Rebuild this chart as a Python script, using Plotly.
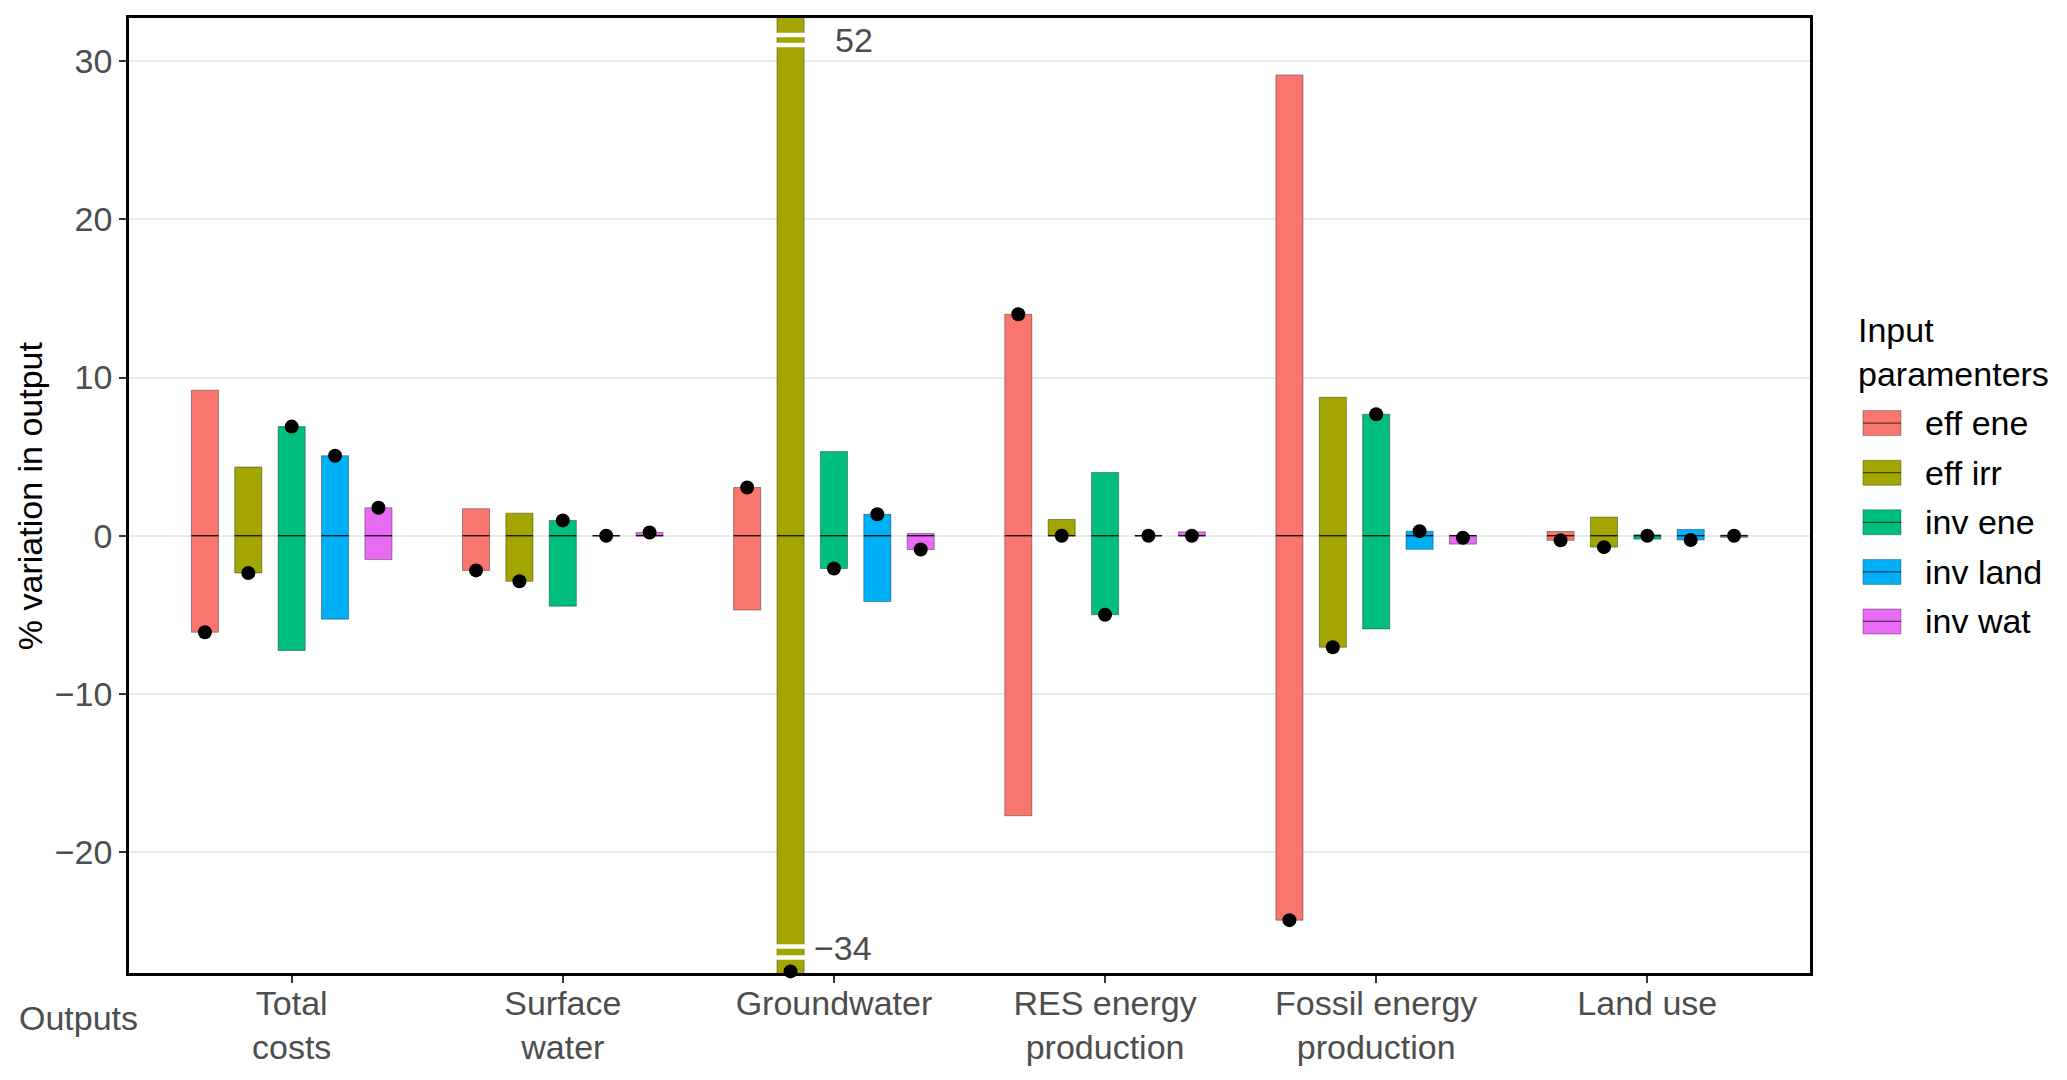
import numpy as np
import plotly.graph_objects as go

# ---------------- data ----------------
outputs = ["Total<br>costs", "Surface<br>water", "Groundwater",
           "RES energy<br>production", "Fossil energy<br>production", "Land use"]
params = ["eff ene", "eff irr", "inv ene", "inv land", "inv wat"]

eff_ene_low = [-6.1, -2.19, -4.7, -17.7, -24.3, -0.29]
eff_ene_high = [9.2, 1.71, 3.05, 14.0, 29.13, 0.27]
eff_ene_dot = [-6.1, -2.19, 3.05, 14.0, -24.3, -0.29]

eff_irr_low = [-2.35, -2.88, -34.0, 0.0, -7.05, -0.72]
eff_irr_high = [4.35, 1.43, 52.0, 1.03, 8.75, 1.18]
eff_irr_dot = [-2.35, -2.88, -34.0, 0.0, -7.05, -0.72]

inv_ene_low = [-7.25, -4.45, -2.07, -4.99, -5.89, -0.21]
inv_ene_high = [6.9, 0.97, 5.32, 4.0, 7.68, 0.06]
inv_ene_dot = [6.9, 0.97, -2.07, -4.99, 7.68, 0.0]

inv_land_low = [-5.27, -0.01, -4.16, -0.01, -0.86, -0.27]
inv_land_high = [5.06, 0.01, 1.36, 0.01, 0.29, 0.4]
inv_land_dot = [5.06, 0.0, 1.36, 0.0, 0.29, -0.27]

inv_wat_low = [-1.5, 0.0, -0.87, 0.0, -0.53, -0.1]
inv_wat_high = [1.77, 0.21, 0.15, 0.25, 0.02, 0.04]
inv_wat_dot = [1.77, 0.21, -0.87, 0.0, -0.13, 0.0]

baseline = 0.0
y_ticks = [-20, -10, 0, 10, 20, 30]

lows = [eff_ene_low, eff_irr_low, inv_ene_low, inv_land_low, inv_wat_low]
highs = [eff_ene_high, eff_irr_high, inv_ene_high, inv_land_high, inv_wat_high]
dots = [eff_ene_dot, eff_irr_dot, inv_ene_dot, inv_land_dot, inv_wat_dot]

# ---------------- style ----------------
colors = ["#F8766D", "#A3A500", "#00BF7D", "#00B0F6", "#E76BF3"]
FONT = "Liberation Sans, Arial, sans-serif"
FS = 34
W, H = 2067, 1080
L, R, T, B = 128.5, 257, 18.3, 106.5
PW, PH = W - L - R, H - T - B
YMIN, YMAX = -27.64, 32.73
DODGE = 0.16
BW = 0.1


def px_x(X):
    return (X - L) / PW


def px_y(Y):
    return (H - B - Y) / PH


fig = go.Figure()
cat_pos = np.arange(1, len(outputs) + 1)

for i, p in enumerate(params):
    xs = cat_pos + (i - 2) * DODGE
    lo = np.array(lows[i])
    hi = np.array(highs[i])
    fig.add_trace(go.Bar(
        x=xs, y=hi - lo, base=lo, width=BW,
        marker=dict(color=colors[i], line=dict(color="rgba(0,0,0,0.35)", width=1)),
        showlegend=False, name=p, hoverinfo="skip"))
    # crossbar middle line
    mx, my = [], []
    for x in xs:
        mx += [x - BW / 2, x + BW / 2, None]
        my += [baseline, baseline, None]
    fig.add_trace(go.Scatter(x=mx, y=my, mode="lines",
                             line=dict(color="black", width=1.2),
                             showlegend=False, hoverinfo="skip"))

# points
for i, p in enumerate(params):
    xs = cat_pos + (i - 2) * DODGE
    d = np.clip(np.array(dots[i]), YMIN + 0.1, YMAX)
    fig.add_trace(go.Scatter(x=xs, y=d, mode="markers",
                             marker=dict(color="black", size=14),
                             cliponaxis=False, showlegend=False, name=p))

shapes = []
annotations = []

# axis break for out-of-range bars
for i, p in enumerate(params):
    for j in range(len(outputs)):
        xc = cat_pos[j] + (i - 2) * DODGE
        if highs[i][j] > YMAX:
            for yy in (YMAX - 1.07, YMAX - 1.70):
                shapes.append(dict(type="line", xref="x", yref="y",
                                   x0=xc - 0.07, x1=xc + 0.07, y0=yy, y1=yy,
                                   line=dict(color="white", width=4.5)))
            annotations.append(dict(x=xc + 0.155, y=YMAX - 1.39, xref="x", yref="y",
                                    text=f"{highs[i][j]:.0f}", showarrow=False,
                                    xanchor="left", yanchor="middle",
                                    font=dict(family=FONT, size=FS, color="#4D4D4D")))
        if lows[i][j] < YMIN:
            for yy in (YMIN + 1.68, YMIN + 0.98):
                shapes.append(dict(type="line", xref="x", yref="y",
                                   x0=xc - 0.07, x1=xc + 0.07, y0=yy, y1=yy,
                                   line=dict(color="white", width=4.5)))
            annotations.append(dict(x=xc + 0.08, y=YMIN + 1.58, xref="x", yref="y",
                                    text=f"{lows[i][j]:.0f}".replace("-", "\u2212"),
                                    showarrow=False,
                                    xanchor="left", yanchor="middle",
                                    font=dict(family=FONT, size=FS, color="#4D4D4D")))

# custom legend
annotations.append(dict(x=px_x(1856), y=px_y(352), xref="paper", yref="paper",
                        text="Input<br>paramenters", showarrow=False, align="left",
                        xanchor="left", yanchor="middle",
                        font=dict(family=FONT, size=FS, color="black")))
for i, p in enumerate(params):
    yc = 423.5 + i * 49.6
    shapes.append(dict(type="rect", xref="paper", yref="paper",
                       x0=px_x(1863), x1=px_x(1901), y0=px_y(yc - 12.5), y1=px_y(yc + 12.5),
                       fillcolor=colors[i], line=dict(color="rgba(0,0,0,0.3)", width=1)))
    shapes.append(dict(type="line", xref="paper", yref="paper",
                       x0=px_x(1863), x1=px_x(1901), y0=px_y(yc), y1=px_y(yc),
                       line=dict(color="rgba(0,0,0,0.6)", width=1.2)))
    annotations.append(dict(x=px_x(1923), y=px_y(yc), xref="paper", yref="paper",
                            text=p, showarrow=False, xanchor="left", yanchor="middle",
                            font=dict(family=FONT, size=FS, color="black")))

# axis titles
annotations.append(dict(x=px_x(29), y=px_y(496), xref="paper", yref="paper",
                        text="% variation in output", textangle=-90, showarrow=False,
                        xanchor="center", yanchor="middle",
                        font=dict(family=FONT, size=FS, color="black")))
annotations.append(dict(x=px_x(78), y=px_y(1019), xref="paper", yref="paper",
                        text="Outputs", showarrow=False,
                        xanchor="center", yanchor="middle",
                        font=dict(family=FONT, size=FS, color="#4D4D4D")))

fig.update_layout(
    width=W, height=H,
    margin=dict(l=L, r=R, t=T, b=B, pad=0),
    paper_bgcolor="white", plot_bgcolor="white",
    barmode="overlay",
    shapes=shapes, annotations=annotations,
    font=dict(family=FONT, size=FS, color="#4D4D4D"),
    showlegend=False,
)
fig.update_xaxes(range=[0.4, 6.6], tickmode="array", tickvals=cat_pos, ticktext=outputs,
                 showgrid=False, zeroline=False, showline=True, mirror=True,
                 linecolor="black", linewidth=2.5, ticks="outside", ticklen=7,
                 tickwidth=2, tickcolor="#333333", ticklabelstandoff=-9,
                 tickfont=dict(family=FONT, size=FS, color="#4D4D4D"))
fig.update_yaxes(range=[YMIN, YMAX], tickmode="array", tickvals=y_ticks,
                 ticktext=[str(v).replace("-", "\u2212") for v in y_ticks],
                 showgrid=True, gridcolor="#EBEBEB", gridwidth=2, zeroline=False,
                 showline=True, mirror=True, linecolor="black", linewidth=2.5,
                 ticks="outside", ticklen=7, tickwidth=2, tickcolor="#333333",
                 tickfont=dict(family=FONT, size=FS, color="#4D4D4D"))

fig.write_html("out.html", config={"displayModeBar": False},
               post_script="document.body.style.margin='0px';")
